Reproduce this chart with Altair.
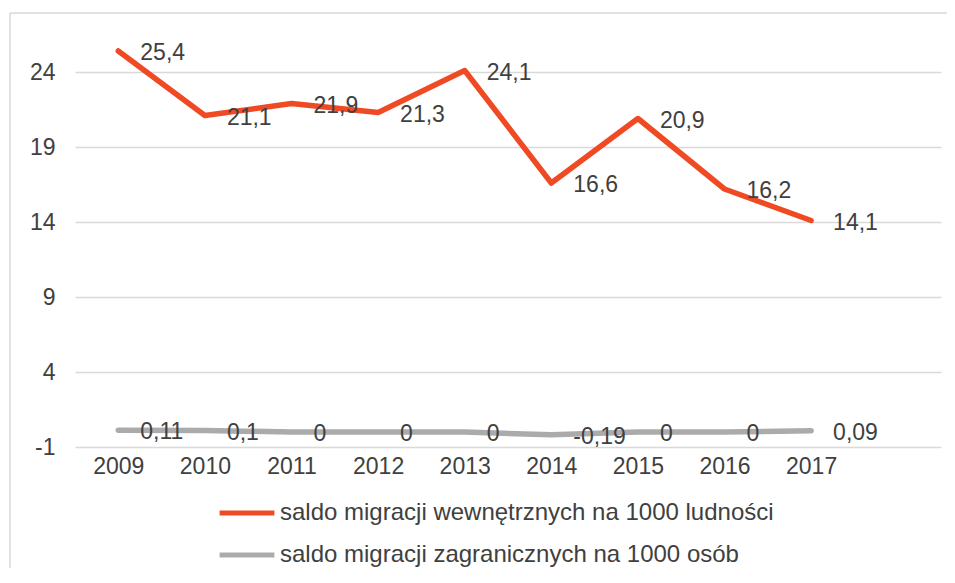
import altair as alt
import pandas as pd

years = [2009, 2010, 2011, 2012, 2013, 2014, 2015, 2016, 2017]
internal = [25.4, 21.1, 21.9, 21.3, 24.1, 16.6, 20.9, 16.2, 14.1]
foreign = [0.11, 0.1, 0, 0, 0, -0.19, 0, 0, 0.09]
series_names = ["saldo migracji wewnętrznych na 1000 ludności",
                "saldo migracji zagranicznych na 1000 osób"]
y_ticks = [-1, 4, 9, 14, 19, 24]

rows = []
for name, vals in zip(series_names, [internal, foreign]):
    for y, v in zip(years, vals):
        rows.append({"year": y, "value": v, "series": name,
                     "label": f"{v:g}".replace(".", ",")})
df = pd.DataFrame(rows)

FONT = "Liberation Sans"
RED = "#EF4A23"
GRAY = "#ABABAB"
W, H = 866, 426
FS = 23

x = alt.X("year:Q", scale=alt.Scale(domain=[2008.5, 2018.5], nice=False, zero=False),
          axis=alt.Axis(values=years, format="d", title=None, grid=False, ticks=False,
                        domain=False, labelFontSize=FS, labelColor="#404040",
                        labelPadding=8, labelFont=FONT, labelFlush=False))
y = alt.Y("value:Q", scale=alt.Scale(domain=[-1, 27.4], nice=False, zero=False),
          axis=alt.Axis(values=y_ticks, title=None, grid=True, gridColor="#D9D9D9",
                        gridWidth=1.5, ticks=False, domain=False, labelFontSize=FS,
                        labelColor="#404040", labelPadding=20, labelFont=FONT,
                        labelExpr="'' + datum.value"))

lines = alt.Chart(df).mark_line(strokeWidth=5.5, strokeCap="round", strokeJoin="round").encode(
    x=x, y=y,
    color=alt.Color("series:N",
                    scale=alt.Scale(domain=series_names, range=[RED, GRAY]),
                    legend=alt.Legend(title=None, orient="none", legendX=142, legendY=462,
                                      symbolType="stroke", symbolSize=3000,
                                      symbolStrokeWidth=5, labelFontSize=24,
                                      labelColor="#404040", labelFont=FONT,
                                      labelLimit=0, rowPadding=-12, labelOffset=3)),
    detail="series:N",
)

labels = alt.Chart(df).mark_text(align="left", baseline="middle", dx=22, dy=2,
                                 fontSize=FS, color="#404040", font=FONT).encode(
    x=x, y=y, text="label:N")

frame_top = alt.Chart(pd.DataFrame({"a": [0]})).mark_rule(color="#D9D9D9", strokeWidth=1.5, clip=False).encode(
    x=alt.value(-65), x2=alt.value(W + 6), y=alt.value(-8))
frame_left = alt.Chart(pd.DataFrame({"a": [0]})).mark_rule(color="#D9D9D9", strokeWidth=1.5, clip=False).encode(
    x=alt.value(-65), y=alt.value(-8), y2=alt.value(H + 121))

chart = alt.layer(frame_top, frame_left, lines, labels).properties(
    width=W, height=H,
    background="white",
    autosize=alt.AutoSizeParams(type="none"),
    padding={"left": 67, "top": 13, "right": 6, "bottom": 121},
).configure_view(stroke="transparent", strokeWidth=0)

chart.save("out.html", embed_options={"renderer": "svg", "actions": False})
